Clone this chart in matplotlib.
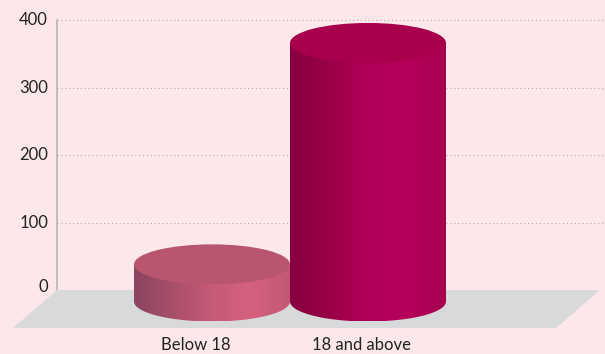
import numpy as np
import matplotlib.pyplot as plt
from matplotlib.patches import Ellipse, Polygon, PathPatch
from matplotlib.path import Path
from matplotlib.colors import LinearSegmentedColormap

categories = ['Below 18', '18 and above']
values = [55, 383]
yticks = [0, 100, 200, 300, 400]

side_colors = [
    ['#8c4460', '#a84f6a', '#c65a77', '#d5617f', '#c35874'],
    ['#86003f', '#9a0047', '#b00057', '#b5005a', '#a6004f'],
]
top_colors = ['#b9566f', '#a8004c']

plt.rcParams['font.family'] = ['Lato', 'DejaVu Sans']

# pixel-ish x, value units on y (0.675 px per unit)
ppu = 0.675
fig = plt.figure(figsize=(6.05, 3.54), dpi=100, facecolor='#fce8ea')
ax = fig.add_axes([0, 0, 1, 1])
ax.set_facecolor('#fce8ea')
ax.axis('off')

# floor
depth_x, depth_y = 44, 38 / ppu
floor = Polygon([(57, 0), (600, 0), (600 - depth_x, -depth_y), (57 - depth_x, -depth_y)],
                closed=True, fc='#d8d9da', ec='none', zorder=1)
ax.add_patch(floor)

# grid + axis
for t in yticks[1:]:
    ax.plot([57, 605], [t, t], ls=(0, (1, 2.5)), lw=0.8, c='#b8a8ac', zorder=0.5)
    ax.text(48, t, str(t), ha='right', va='center', fontsize=12, color='#222222')
ax.text(48, 4, '0', ha='right', va='center', fontsize=12, color='#222222')
ax.plot([57, 57], [0, 400], lw=1.2, c='#b5b5b5', zorder=0.6)

# cylinders
r = 78
b = 20 / ppu
base = -17
for i, (cat, v) in enumerate(zip(categories, values)):
    cx = 212 + 156 * i
    top = base + v
    cmap = LinearSegmentedColormap.from_list('c%d' % i, side_colors[i])
    th = np.linspace(np.pi, 2 * np.pi, 60)
    arc = [(cx + r * np.cos(a), base + b * np.sin(a)) for a in th]
    verts = [(cx - r, top)] + arc + [(cx + r, top), (cx - r, top)]
    clip = PathPatch(Path(verts, closed=True), fc='none', ec='none', transform=ax.transData)
    ax.add_patch(clip)
    grad = np.linspace(0, 1, 256).reshape(1, -1)
    im = ax.imshow(grad, cmap=cmap, aspect='auto', extent=[cx - r, cx + r, base - b, top],
                   zorder=2 + i, interpolation='bilinear')
    im.set_clip_path(clip)
    ax.add_patch(Ellipse((cx, top), 2 * r, 2 * b, fc=top_colors[i], ec='none', zorder=2.5 + i))
    ax.text(196 + 165 * i, -(345 - 290) / ppu, cat, ha='center', va='center',
            fontsize=12, color='#222222')

ax.set_xlim(0, 605)
ax.set_ylim(-(354 - 290) / ppu, 290 / ppu)
fig.savefig('out.png', dpi=100, facecolor=fig.get_facecolor())
